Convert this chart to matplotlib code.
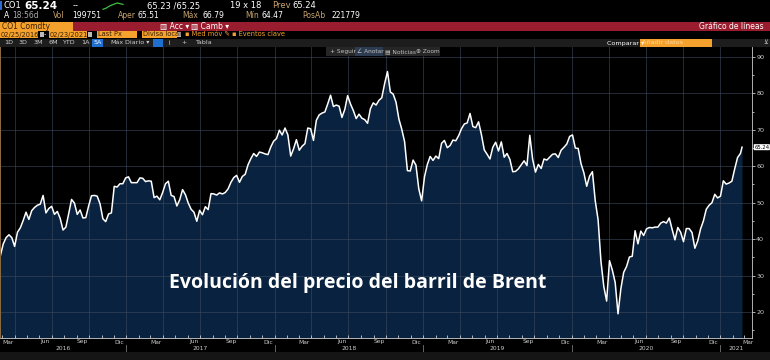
import matplotlib
matplotlib.use("Agg")
import matplotlib.pyplot as plt
import matplotlib.dates as mdates
from matplotlib.patches import Rectangle
from matplotlib.lines import Line2D
from matplotlib.transforms import blended_transform_factory
import pandas as pd

# Brent (CO1) semanal
p2016 = [35.5, 38.7, 40.4, 41.2, 40.4, 38.0, 41.9, 43.1, 45.1, 47.4,
         45.4, 47.8, 48.7, 49.3, 49.6, 52.0, 47.2, 48.4, 49.0, 46.8,
         47.6, 45.7, 42.5, 43.3, 47.0, 50.9, 49.9, 46.8, 48.0, 45.8,
         45.9, 49.1, 51.9, 52.0, 51.8, 49.7, 45.6, 44.8, 46.9, 47.2,
         54.5, 54.3, 55.2, 55.2, 56.8]
p2017 = [57.1, 55.5, 55.5, 55.5, 56.8, 56.7, 55.8, 56.0, 55.9, 51.4,
         51.8, 50.8, 52.8, 55.2, 55.9, 52.0, 51.7, 49.1, 50.8, 53.6,
         52.2, 49.9, 48.2, 47.4, 44.9, 47.9, 46.7, 48.9, 48.1, 52.5,
         52.4, 52.1, 52.7, 52.4, 52.8, 53.8, 55.6, 56.9, 57.5, 55.6,
         57.2, 57.8, 60.4, 62.1, 63.5, 62.7, 63.9, 63.7, 63.4, 63.2,
         65.3, 66.9]
p2018 = [67.6, 69.9, 68.6, 70.5, 68.6, 62.8, 64.8, 67.3, 64.4, 65.5,
         66.2, 70.5, 70.3, 67.1, 72.6, 74.1, 74.6, 74.9, 77.1, 79.5,
         76.4, 76.8, 76.5, 73.4, 75.6, 79.4, 77.1, 75.3, 73.1, 74.3,
         73.2, 72.8, 71.8, 75.8, 77.4, 76.8, 78.1, 78.8, 82.7, 86.0,
         80.4, 79.8, 77.6, 73.0, 70.2, 66.8, 58.8, 58.7, 61.7, 60.3,
         53.8, 50.5]
p2019 = [57.1, 60.5, 62.7, 61.6, 62.8, 62.1, 66.3, 67.1, 65.1, 65.7,
         67.2, 67.0, 68.4, 70.3, 71.6, 71.9, 74.5, 70.9, 70.6, 72.2,
         68.7, 64.5, 63.3, 62.0, 65.2, 66.6, 64.2, 66.7, 62.5, 63.5,
         61.9, 58.5, 58.6, 59.3, 60.4, 61.5, 60.2, 68.5, 61.9, 58.4,
         60.5, 59.4, 62.0, 61.7, 62.5, 63.3, 63.4, 62.4, 64.4, 65.2,
         66.1, 68.2]
p2020 = [68.6, 65.0, 64.9, 60.7, 58.2, 54.5, 57.3, 58.5, 50.5, 45.3,
         33.9, 27.0, 23.0, 34.1, 31.5, 28.1, 19.5, 26.4, 30.9, 32.5,
         35.1, 35.3, 42.3, 38.7, 42.2, 41.0, 42.8, 43.2, 43.1, 43.3,
         43.3, 44.4, 44.8, 44.4, 45.8, 42.7, 39.8, 43.2, 41.9, 39.3,
         42.9, 42.9, 41.8, 37.5, 39.5, 42.8, 45.0, 48.2, 49.3, 50.0,
         52.3, 51.3]
p2021 = [51.8, 56.0, 55.1, 55.4, 55.9, 59.3, 62.4, 63.5]
first_fridays = ["2016-02-26", "2017-01-06", "2018-01-05",
                 "2019-01-04", "2020-01-03", "2021-01-01"]

start_date, start_price = "2016-02-25", 35.3
last_date, last_price = "2021-02-23", 65.24

month_names = ["Mar", "Jun", "Sep", "Dic"]
years = ["2016", "2017", "2018", "2019", "2020", "2021"]
spark = [0.1, 0.25, 0.5, 0.7, 0.85, 1.0, 0.9, 0.8]

dates = [pd.Timestamp(start_date)]
prices = [start_price]
for first, vals in zip(first_fridays, [p2016, p2017, p2018, p2019, p2020, p2021]):
    dates += list(pd.date_range(first, periods=len(vals), freq="7D"))
    prices += vals
dates.append(pd.Timestamp(last_date))
prices.append(last_price)

W, H = 770, 360
fig = plt.figure(figsize=(W / 100, H / 100), dpi=100, facecolor="black")


def bar(x, y, w, h, color):
    fig.add_artist(Rectangle((x / W, 1 - (y + h) / H), w / W, h / H,
                             transform=fig.transFigure, color=color, lw=0))


def label(x, y, s, color="white", size=5.5, **kw):
    fig.text(x / W, 1 - y / H, s, color=color, fontsize=size, va="center",
             family="DejaVu Sans", **kw)


tan = "#c8a46e"
orange = "#f4a22d"

# cabecera
bar(0, 1, 2, 9, "#2a6cd6")
label(3, 6, "CO1", size=6)
label(24, 6, "65.24", size=7.5, weight="bold")
label(73, 6, "--", size=6)
xs = [(103 + i * 20 / (len(spark) - 1)) / W for i in range(len(spark))]
ys = [1 - (10 - v * 7) / H for v in spark]
fig.add_artist(Line2D(xs, ys, color="#3fbf3f", lw=0.9, transform=fig.transFigure))
label(147, 6, "65.23 /65.25", size=6)
label(230, 6, "19 x 18", size=6)
label(272, 6, "Prev", color=tan, size=6)
label(292, 6, "65.24", size=6)

label(4, 16, "A", size=5.5)
label(12, 16, "18:56d", color="#aaaaaa", size=5.5)
label(53, 16, "Vol", color=tan)
label(72, 16, "199751")
label(118, 16, "Aper", color=tan)
label(137, 16, "65.51")
label(182, 16, "Máx", color=tan)
label(203, 16, "66.79")
label(245, 16, "Mín", color=tan)
label(262, 16, "64.47")
label(302, 16, "PosAb", color=tan)
label(332, 16, "221779")

bar(0, 22, W, 9, "#9a1c2f")
bar(0, 22, 73, 9, orange)
label(2, 26.5, "CO1 Comdty", color="#3a2000", size=5.5)
label(160, 26.5, "▥ Acc ▾", size=5.5)
label(191, 26.5, "▥ Camb ▾", size=5.5)
label(764, 26.5, "Gráfico de líneas", size=5.5, ha="right")

bar(0, 31, 38, 7, orange)
label(1, 34.5, "02/25/2016", color="#3a2000", size=4.8)
bar(40, 32, 4, 5, "#bbbbbb")
label(44, 34.5, "-", size=4.8)
bar(49, 31, 38, 7, orange)
label(50, 34.5, "02/23/2021", color="#3a2000", size=4.8)
bar(88, 32, 4, 5, "#bbbbbb")
bar(97, 31, 40, 7, orange)
label(98, 34.5, "Last Px", color="#3a2000", size=4.8)
bar(142, 31, 35, 7, orange)
label(143, 34.5, "Divisa local", color="#3a2000", size=4.8)
bar(177, 32, 4, 5, "#bbbbbb")
label(185, 34.5, "▪ Med móv ✎", color=orange, size=4.8)
label(232, 34.5, "▪ Eventos clave", color=orange, size=4.8)

bar(0, 39, W, 8, "#1d1d1d")
for x, s in [(4, "1D"), (19, "3D"), (34, "3M"), (49, "6M"), (62, "YTD"),
             (81, "1A"), (110, "Máx"), (125, "Diario ▾"), (167, "⌇"),
             (181, "+"), (195, "Tabla")]:
    label(x, 43, s, color="#cfcfcf", size=4.6)
bar(92, 39.5, 11, 7, "#1f6fd0")
label(94, 43, "5A", size=4.6)
bar(153, 39.5, 10, 7, "#1f6fd0")
label(607, 43, "Comparar ▾", size=4.6)
bar(640, 39.5, 72, 7, orange)
label(642, 43, "Añadir datos", color="#ffd9a0", size=4.6)
label(763, 43, "⊻", color="#cfcfcf", size=4.6)

# grafico
ax = fig.add_axes([0, 22 / H, 752 / W, 291 / H])
ax.set_facecolor("black")
x0 = pd.Timestamp(start_date)
x1 = x0 + pd.Timedelta(days=1849.5)
ax.set_xlim(x0, x1)
ax.set_ylim(12.86, 92.74)

ax.fill_between(dates, prices, 0, color="#09223f", lw=0, zorder=1)
ax.plot(dates, prices, color="white", lw=1.1, zorder=3)

ax.xaxis.set_major_locator(mdates.MonthLocator(bymonth=[1, 4, 7, 10]))
ax.xaxis.set_minor_locator(mdates.MonthLocator())
ax.set_yticks(range(20, 91, 10))
ax.set_yticks(range(15, 91, 5), minor=True)
ax.set_axisbelow(False)
ax.grid(True, which="major", color="#3b4a5c", lw=0.6, alpha=0.7)
ax.tick_params(axis="x", which="both", labelbottom=False, direction="in",
               length=2, color="#cccccc", width=0.6)
ax.tick_params(axis="y", which="both", left=False, labelleft=False,
               right=True, labelright=True, direction="out", length=2,
               color="#cccccc", width=0.6, labelsize=4.6,
               labelcolor="#cccccc", pad=1)
ax.tick_params(axis="y", which="minor", length=1.5)
for side in ["top", "left"]:
    ax.spines[side].set_visible(False)
ax.spines["bottom"].set_color("#cccccc")
ax.spines["bottom"].set_linewidth(0.6)
ax.spines["right"].set_color("#cccccc")
ax.spines["right"].set_linewidth(0.6)

bt = blended_transform_factory(ax.transData, ax.transAxes)
yb = -10 / 291
for yr in range(2016, 2022):
    for i, m in enumerate([3, 6, 9, 12]):
        d = pd.Timestamp(yr, m, 15)
        if d > x1:
            continue
        if d > x1 - pd.Timedelta(days=10):
            d = x1 - pd.Timedelta(days=10)
        ax.text(d, -4 / 291, month_names[i], transform=bt, ha="center",
                va="center", color="#cccccc", fontsize=4.3, clip_on=False)
for yr in years:
    a = max(pd.Timestamp(int(yr), 1, 1), x0)
    b = min(pd.Timestamp(int(yr) + 1, 1, 1), x1)
    ax.text(a + (b - a) / 2, yb, yr, transform=bt, ha="center",
            va="center", color="#cccccc", fontsize=4.3, clip_on=False)
    if int(yr) > 2016:
        ax.axvline(pd.Timestamp(int(yr), 1, 1), ymin=-14 / 291, ymax=-7 / 291,
                   color="#777777", lw=0.6, clip_on=False)

by = blended_transform_factory(ax.transAxes, ax.transData)
ax.text(1.003, last_price, f"{last_price:.2f}", transform=by, ha="left",
        va="center", fontsize=3.8, color="black", clip_on=False,
        bbox=dict(boxstyle="round,pad=0.1", fc="white", ec="none"))

bar(0, 47, 1.2, 291, "#8a6a40")
bar(0, 352, W, 8, "#151515")

# botones dentro del grafico
bar(326, 47.5, 114, 8, "#262626")
bar(355, 47.5, 28, 8, "#2d3b50")
for x, s in [(330, "+ Seguir"), (357, "∠ Anotar"), (385, "▤ Noticias"),
             (416, "⊕ Zoom")]:
    label(x, 51.5, s, color="#bfbfbf", size=4.2)

fig.text(358 / W, 1 - 283 / H, "Evolución del precio del barril de Brent",
         color="white", fontsize=14, weight="bold", family="Open Sans",
         ha="center", va="center")

fig.savefig("out.png", dpi=100, facecolor="black")
